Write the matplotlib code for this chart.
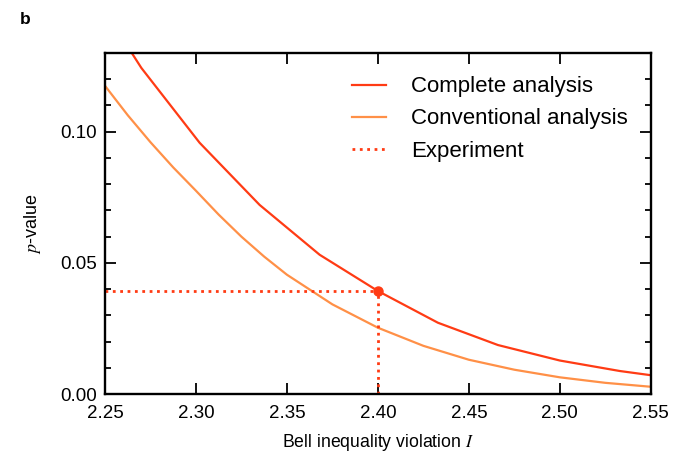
import matplotlib
matplotlib.use("Agg")
import matplotlib.pyplot as plt
from matplotlib.ticker import MultipleLocator, FormatStrFormatter

plt.rcParams['font.family'] = ['Liberation Sans', 'DejaVu Sans']
plt.rcParams['mathtext.fontset'] = 'stix'

# complete analysis (red)
complete_I = [2.237, 2.270, 2.302, 2.335, 2.368, 2.400, 2.433, 2.466, 2.500, 2.533, 2.566]
complete_p = [0.160, 0.1243, 0.0958, 0.0721, 0.0531, 0.0393, 0.0272, 0.0187, 0.0128, 0.0088, 0.0057]

# conventional analysis (orange)
conv_I = [2.25, 2.2625, 2.275, 2.2875, 2.30, 2.3125, 2.325, 2.3375, 2.35, 2.375, 2.40,
          2.425, 2.45, 2.475, 2.50, 2.525, 2.55]
conv_p = [0.1175, 0.1063, 0.0960, 0.0864, 0.0775, 0.0684, 0.0600, 0.0524, 0.0455, 0.0342, 0.0253,
          0.0184, 0.0131, 0.0093, 0.0064, 0.0043, 0.0028]

# experimental point
exp_I = 2.40
exp_p = 0.0393

red = '#ff3b14'
orange = '#ff9047'

fig = plt.figure(figsize=(6.73, 4.53), dpi=100)
ax = fig.add_axes([0.156, 0.130, 0.811, 0.753])

ax.plot(complete_I, complete_p, color=red, lw=1.6, label='Complete analysis')
ax.plot(conv_I, conv_p, color=orange, lw=1.6, label='Conventional analysis')
ax.plot([2.25, exp_I], [exp_p, exp_p], color=red, lw=2, ls=':', label='Experiment')
ax.plot([exp_I, exp_I], [0, exp_p], color=red, lw=2, ls=':')
ax.plot([exp_I], [exp_p], 'o', color=red, ms=6.5, zorder=5)

ax.set_xlim(2.25, 2.55)
ax.set_ylim(0, 0.13)
ax.xaxis.set_major_locator(MultipleLocator(0.05))
ax.yaxis.set_major_locator(MultipleLocator(0.05))
ax.yaxis.set_minor_locator(MultipleLocator(0.01))
ax.xaxis.set_major_formatter(FormatStrFormatter('%.2f'))
ax.yaxis.set_major_formatter(FormatStrFormatter('%.2f'))

ax.tick_params(which='both', direction='in', top=True, right=True, width=1.3, labelsize=13.5)
ax.tick_params(axis='x', pad=8)
ax.tick_params(axis='y', pad=6)
ax.tick_params(which='major', length=8)
ax.tick_params(which='minor', length=4.5)
for s in ax.spines.values():
    s.set_linewidth(1.7)

ax.set_xlabel(r'Bell inequality violation $I$', fontsize=12.7, labelpad=7)
ax.set_ylabel(r'$p$-value', fontsize=13, labelpad=12)

ax.legend(loc='upper right', frameon=False, fontsize=16, handlelength=1.55,
          handletextpad=1.1, labelspacing=0.5, borderaxespad=0.65)

fig.text(0.030, 0.957, 'b', fontsize=12.5, fontweight='bold', va='center')

fig.savefig('out.png', dpi=100)
